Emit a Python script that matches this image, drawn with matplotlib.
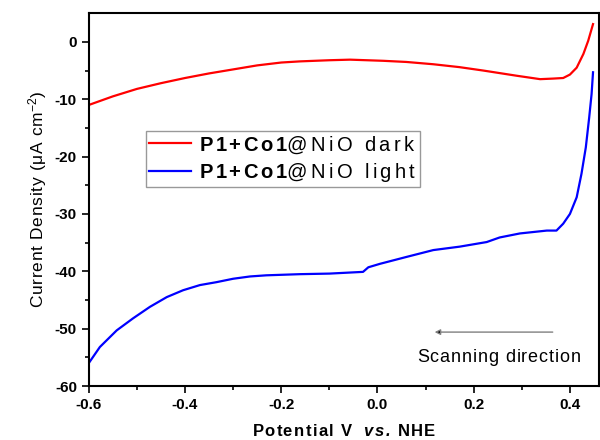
import matplotlib
matplotlib.use("Agg")
import matplotlib.pyplot as plt

plt.rcParams["font.family"] = ["Liberation Sans", "DejaVu Sans"]
plt.rcParams["axes.unicode_minus"] = False
plt.rcParams["mathtext.fontset"] = "custom"
plt.rcParams["mathtext.rm"] = "Liberation Sans"
plt.rcParams["mathtext.it"] = "Liberation Sans:italic"
plt.rcParams["mathtext.bf"] = "Liberation Sans:bold"
plt.rcParams["mathtext.bfit"] = "Liberation Sans:bold:italic"

# Curva no escuro (dark)
pot_dark = [-0.6, -0.55, -0.5, -0.45, -0.4, -0.35, -0.3, -0.25, -0.2, -0.161, -0.1, -0.057,
            0.012, 0.06, 0.116, 0.17, 0.22, 0.289, 0.338, 0.365, 0.386, 0.4, 0.414,
            0.428, 0.438, 0.448]
cur_dark = [-11.0, -9.5, -8.2, -7.2, -6.3, -5.5, -4.8, -4.1, -3.6, -3.4, -3.2, -3.1,
            -3.3, -3.5, -3.9, -4.4, -5.0, -5.9, -6.5, -6.4, -6.3, -5.7, -4.5,
            -2.1, 0.2, 3.1]

# Curva sob luz (light)
pot_light = [-0.6, -0.577, -0.542, -0.508, -0.473, -0.438, -0.404, -0.369, -0.335,
             -0.3, -0.265, -0.231, -0.196, -0.161, -0.1, -0.03, -0.019, 0.005,
             0.06, 0.116, 0.171, 0.227, 0.254, 0.296, 0.352, 0.372, 0.386, 0.4, 0.414,
             0.424, 0.433, 0.44, 0.445, 0.448]
cur_light = [-56.0, -53.2, -50.3, -48.2, -46.2, -44.5, -43.3, -42.4, -41.9,
             -41.3, -40.9, -40.7, -40.6, -40.5, -40.4, -40.1, -39.3, -38.7,
             -37.5, -36.3, -35.7, -34.9, -34.1, -33.4, -32.9, -32.9, -31.7, -30.0, -27.1,
             -23.0, -18.4, -13.2, -9.1, -5.3]


def track(s, cmd=r"\mathrm", gap=0.09):
    # espaçamento entre letras com mathtext
    subs = {" ": r"\ ", "+": "{+}"}
    parts = [subs.get(c, c) for c in s]
    return cmd + "{" + (r"\hspace{%g}" % gap).join(parts) + "}"


lab_dark = "$" + track("P1+Co1", r"\mathbf", 0.16) + track("@NiO dark", gap=0.2) + "$"
lab_light = "$" + track("P1+Co1", r"\mathbf", 0.16) + track("@NiO light", gap=0.2) + "$"

fig = plt.figure(figsize=(6, 4.4), dpi=100)
ax = fig.add_axes([0.148, 0.1227, 0.85, 0.8473])

ax.plot(pot_dark, cur_dark, color="#ff0000", lw=1.6, label=lab_dark)
ax.plot(pot_light, cur_light, color="#0000ff", lw=1.6, label=lab_light)

ax.set_xlim(-0.6, 0.46)
ax.set_ylim(-60, 5)
ax.set_xticks([-0.6, -0.4, -0.2, 0.0, 0.2, 0.4])
ax.set_xticks([-0.5, -0.3, -0.1, 0.1, 0.3], minor=True)
ax.set_yticks([0, -10, -20, -30, -40, -50, -60])
ax.set_yticks([-5, -15, -25, -35, -45, -55], minor=True)
ax.tick_params(which="major", direction="out", length=5, width=1.2, labelsize=11)
ax.tick_params(which="minor", direction="out", length=3, width=1.2)
for lbl in ax.get_xticklabels() + ax.get_yticklabels():
    lbl.set_fontweight("bold")
for s in ax.spines.values():
    s.set_linewidth(1.5)

xlab = "$" + track("Potential V  ", r"\mathbf", 0.1) + track("vs.", r"\mathbfit", 0.1) \
       + r"\ " + track("NHE", r"\mathbf", 0.1) + "$"
ax.set_xlabel(xlab, fontsize=12, labelpad=8)
ylab = "$" + track("Current Density (\u03bcA cm", gap=0.05) \
       + "^{-2}" + track(")") + "$"
ax.set_ylabel(ylab, fontsize=12.5, labelpad=4)

leg = ax.legend(loc="upper left", bbox_to_anchor=(0.1, 0.7), fontsize=14.5,
                fancybox=False, edgecolor="gray", handlelength=2.1,
                borderpad=0.15, borderaxespad=0.3, labelspacing=0.25, handletextpad=0.4)
leg.get_frame().set_linewidth(1.0)

ax.annotate("", xy=(0.113, -50.6), xytext=(0.37, -50.6),
            arrowprops=dict(arrowstyle="-|>", color="gray", lw=1.0, mutation_scale=8,
                            fc="black", ec="gray"))
ax.text(0.252, -55, "$" + track("Scanning direction", gap=0.06) + "$",
        ha="center", va="center", fontsize=13)

fig.savefig("out.png", dpi=100)
